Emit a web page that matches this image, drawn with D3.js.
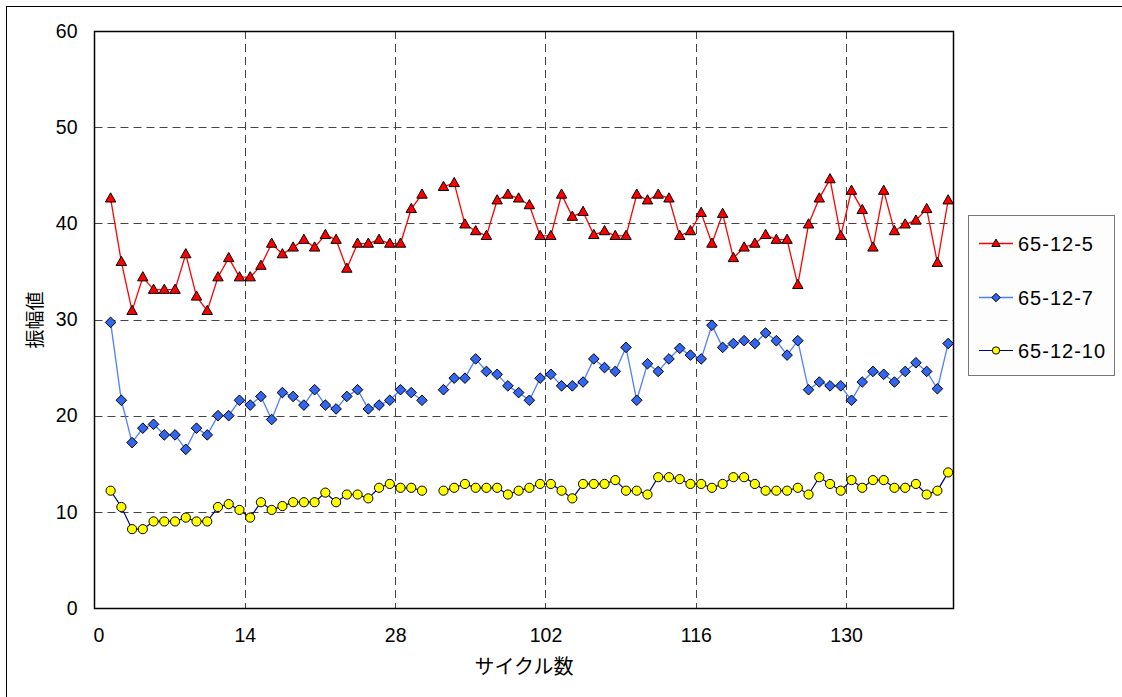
<!DOCTYPE html>
<html>
<head>
<meta charset="utf-8">
<script src="https://cdn.jsdelivr.net/npm/d3@7"></script>
<style>
  html, body { margin: 0; padding: 0; background: #fff; }
  svg { display: block; }
  text { font-family: "Liberation Sans", Arial, sans-serif; fill: #000; }
  .jp { font-family: "Noto Sans CJK JP", "Noto Sans", sans-serif; }
</style>
</head>
<body>
<script>
// Category slots along the x axis; each cycle occupies one slot.
const slotCount = 80;
const xTickSlots = [0, 14, 28, 42, 56, 70];
const xTickLabels = ["0", "14", "28", "102", "116", "130"];
const yTicks = [0, 10, 20, 30, 40, 50, 60];

// Measurements for slots 1..79 (slot 31 has no measurement).
const series5 = [42.6, 36.0, 30.9, 34.4, 33.1, 33.1, 33.1, 36.8, 32.4, 30.9, 34.4, 36.4, 34.4, 34.4, 35.6,
  37.9, 36.8, 37.5, 38.3, 37.5, 38.8, 38.3, 35.3, 37.9, 37.9, 38.3, 37.9, 37.9, 41.5, 43.0, null,
  43.8, 44.2, 39.9, 39.2, 38.7, 42.4, 43.0, 42.6, 41.9, 38.7, 38.7, 43.0, 40.7, 41.2, 38.8, 39.2,
  38.7, 38.7, 43.0, 42.4, 43.0, 42.6, 38.7, 39.2, 41.1, 37.9, 41.0, 36.4, 37.5, 37.9, 38.8, 38.3,
  38.3, 33.6, 39.9, 42.6, 44.6, 38.7, 43.4, 41.4, 37.5, 43.4, 39.2, 39.9, 40.3, 41.5, 35.9, 42.4];
const series7 = [29.7, 21.6, 17.2, 18.7, 19.1, 18.0, 18.0, 16.5, 18.7, 18.0, 20.0, 20.0, 21.6, 21.1, 22.0,
  19.6, 22.4, 22.0, 21.1, 22.7, 21.1, 20.7, 22.0, 22.7, 20.7, 21.1, 21.6, 22.7, 22.4, 21.6, null,
  22.7, 23.9, 23.9, 25.9, 24.6, 24.3, 23.1, 22.4, 21.6, 23.9, 24.3, 23.1, 23.1, 23.5, 25.9, 25.0,
  24.6, 27.1, 21.6, 25.4, 24.6, 25.9, 27.0, 26.3, 25.9, 29.4, 27.1, 27.5, 27.8, 27.5, 28.6, 27.8,
  26.3, 27.8, 22.7, 23.5, 23.1, 23.1, 21.6, 23.5, 24.6, 24.3, 23.5, 24.6, 25.5, 24.6, 22.8, 27.5];
const series10 = [12.2, 10.5, 8.2, 8.2, 9.0, 9.0, 9.0, 9.4, 9.0, 9.0, 10.5, 10.8, 10.2, 9.4, 11.0,
  10.2, 10.6, 11.0, 11.0, 11.0, 12.0, 11.0, 11.8, 11.8, 11.4, 12.5, 12.9, 12.5, 12.5, 12.2, null,
  12.2, 12.5, 12.9, 12.5, 12.5, 12.5, 11.8, 12.2, 12.5, 12.9, 12.9, 12.2, 11.4, 12.9, 12.9, 12.9,
  13.3, 12.2, 12.2, 11.8, 13.6, 13.6, 13.4, 12.9, 12.9, 12.5, 12.9, 13.6, 13.6, 12.9, 12.2, 12.2,
  12.2, 12.5, 11.8, 13.6, 12.9, 12.2, 13.3, 12.5, 13.3, 13.3, 12.5, 12.5, 12.9, 11.8, 12.2, 14.1];
const seriesNames = ["65-12-5", "65-12-7", "65-12-10"];

const W = 1122, H = 697;
const plot = { left: 94.5, top: 31, right: 953.5, bottom: 608 };

const svg = d3.select("body").append("svg").attr("width", W).attr("height", H);

// Outer chart frame
svg.append("rect").attr("x", 6.5).attr("y", 6.5).attr("width", 1130).attr("height", 720)
  .attr("fill", "#fff").attr("stroke", "#000").attr("stroke-width", 1);

const x = d3.scaleLinear().domain([0, slotCount]).range([plot.left, plot.right]);
const y = d3.scaleLinear().domain([0, 60]).range([plot.bottom, plot.top]);

// Dashed gridlines
const grid = svg.append("g").attr("stroke", "#444").attr("stroke-width", 1).attr("stroke-dasharray", "8,5");
grid.selectAll("line.h").data(yTicks.filter(v => v > 0 && v < 60)).join("line")
  .attr("x1", plot.left).attr("x2", plot.right)
  .attr("y1", d => Math.round(y(d)) + 0.5).attr("y2", d => Math.round(y(d)) + 0.5);
grid.selectAll("line.v").data(xTickSlots.filter(v => v > 0)).join("line")
  .attr("y1", plot.top).attr("y2", plot.bottom)
  .attr("x1", d => Math.round(x(d)) + 0.5).attr("x2", d => Math.round(x(d)) + 0.5);

// Plot frame
svg.append("rect").attr("x", plot.left).attr("y", plot.top + 0.5)
  .attr("width", plot.right - plot.left).attr("height", plot.bottom - plot.top)
  .attr("fill", "none").attr("stroke", "#000").attr("stroke-width", 1.5);

// Axes (labels only; the frame draws the axis lines)
const yAxis = d3.axisLeft(y).tickValues(yTicks).tickSize(0).tickPadding(17);
svg.append("g").attr("transform", `translate(${plot.left},0)`).call(yAxis)
  .call(g => g.select(".domain").remove())
  .call(g => g.selectAll("text").attr("font-size", 19.5).attr("font-family", "Liberation Sans, Arial, sans-serif"));

const xAxis = d3.axisBottom(x).tickValues(xTickSlots).tickSize(0).tickPadding(20)
  .tickFormat((d, i) => xTickLabels[i]);
svg.append("g").attr("transform", `translate(0,${plot.bottom})`).call(xAxis)
  .call(g => g.select(".domain").remove())
  .call(g => g.selectAll("text").attr("font-size", 19.5).attr("font-family", "Liberation Sans, Arial, sans-serif")
    .attr("dx", (d, i) => i === 0 ? 4 : 0));

// Axis titles
svg.append("text").attr("class", "jp").attr("x", 524).attr("y", 674)
  .attr("text-anchor", "middle").attr("font-size", 20).text("サイクル数");
svg.append("text").attr("class", "jp")
  .attr("transform", "translate(42,320) rotate(-90)")
  .attr("text-anchor", "middle").attr("font-size", 19).text("振幅値");

// Series drawing
const slotX = i => x(i + 1 + 0.5);
const styles = [
  { data: series5, line: "#ff0000", lw: 1.3, fill: "#ff0000", shape: "tri" },
  { data: series7, line: "#4f7fff", lw: 1.3, fill: "#3366ee", shape: "dia" },
  { data: series10, line: "#000080", lw: 1.2, fill: "#ffff00", shape: "circ" }
];

function marker(sel, shape, scale) {
  const s = scale || 1;
  if (shape === "tri") {
    const h = 9.2 * s, w = 10.4 * s;
    sel.append("path").attr("d", `M0,${-h * 0.6}L${w / 2},${h * 0.4}L${-w / 2},${h * 0.4}Z`);
  } else if (shape === "dia") {
    const r = 5.3 * s;
    sel.append("path").attr("d", `M0,${-r}L${r},0L0,${r}L${-r},0Z`);
  } else {
    sel.append("circle").attr("r", 4.6 * s);
  }
}

styles.forEach(st => {
  const pts = st.data.map((v, i) => ({ i, v }));
  const line = d3.line().defined(d => d.v !== null).x(d => slotX(d.i)).y(d => y(d.v));
  svg.append("path").datum(pts).attr("d", line)
    .attr("fill", "none").attr("stroke", st.line).attr("stroke-width", st.lw);
  const g = svg.append("g").attr("fill", st.fill).attr("stroke", "#000").attr("stroke-width", 1);
  g.selectAll("g").data(pts.filter(d => d.v !== null)).join("g")
    .attr("transform", d => `translate(${slotX(d.i)},${y(d.v)})`)
    .each(function () { marker(d3.select(this), st.shape); });
});

// Legend
const lg = svg.append("g");
lg.append("rect").attr("x", 968.5).attr("y", 215.5).attr("width", 146).attr("height", 160)
  .attr("fill", "#fdfdfd").attr("stroke", "#777").attr("stroke-width", 1);
const legendY = [243.5, 297.5, 350.5];
styles.forEach((st, k) => {
  const ly = legendY[k];
  lg.append("line").attr("x1", 979).attr("x2", 1013).attr("y1", ly).attr("y2", ly)
    .attr("stroke", st.line).attr("stroke-width", st.lw);
  const m = lg.append("g").attr("transform", `translate(996,${ly})`)
    .attr("fill", st.fill).attr("stroke", "#000").attr("stroke-width", 1);
  marker(m, st.shape, 0.8);
  lg.append("text").attr("x", 1018).attr("y", ly + 7).attr("font-size", 20)
    .attr("letter-spacing", 1).text(seriesNames[k]);
});
</script>
</body>
</html>
